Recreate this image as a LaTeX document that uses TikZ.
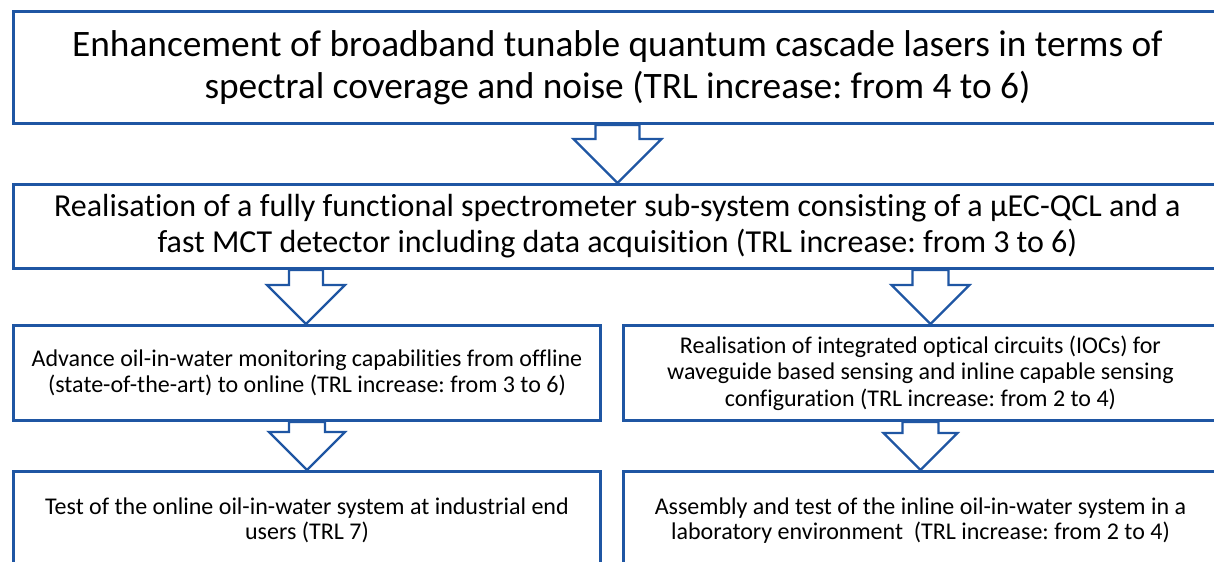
\documentclass[tikz,border=0pt]{standalone}
\usepackage{fontspec}
\setmainfont{Carlito}[RawFeature=-liga]
\usetikzlibrary{calc,backgrounds}
\definecolor{boxblue}{HTML}{1F56A3}
\tikzset{
  stagebox/.style={draw=boxblue, line width=2.2pt, fill=white, anchor=north west,
    inner sep=0pt, align=center},
  arrowline/.style={draw=boxblue, line width=1.7pt, fill=white, line join=miter},
}
% hollow block arrow: [x offset]{from}{to}{shaft half width}{head half width}
\newcommand{\flowarrow}[5][0]{%
  \draw[arrowline] ($(#2.south -| #3.north)+(#1-#4,0)$)
    -- ($(#3.north)+(#1-#4,-#5)$) -- ($(#3.north)+(#1-#5,-#5)$)
    -- ($(#3.north)+(#1,0)$)
    -- ($(#3.north)+(#1+#5,-#5)$) -- ($(#3.north)+(#1+#4,-#5)$)
    -- ($(#2.south -| #3.north)+(#1+#4,0)$) -- cycle;}
\frenchspacing

\begin{document}
\begin{tikzpicture}[x=0.75pt,y=-0.75pt]
\useasboundingbox (0,0) rectangle (1214,561);
\clip (0,0) rectangle (1214,561);

\node[stagebox, minimum width=1208*0.75pt, minimum height=112*0.75pt,
  font=\fontsize{28}{31.5}\selectfont] (qcl) at (12,10)
  {Enhancement of broadband tunable quantum cascade lasers in terms of\\
   spectral coverage and noise (TRL increase: from 4 to 6)};

\node[stagebox, minimum width=1208*0.75pt, minimum height=84*0.75pt,
  font=\fontsize{24}{27}\selectfont] (spec) at (12,183)
  {Realisation of a fully functional spectrometer sub-system consisting of a µEC-QCL and a\\
   fast MCT detector including data acquisition (TRL increase: from 3 to 6)};

\node[stagebox, minimum width=587*0.75pt, minimum height=95*0.75pt,
  font=\fontsize{18}{20}\selectfont] (online) at (12,324)
  {Advance oil-in-water monitoring capabilities from offline\\
   (state-of-the-art) to online (TRL increase: from 3 to 6)};

\node[stagebox, minimum width=594*0.75pt, minimum height=95*0.75pt,
  font=\fontsize{18}{20}\selectfont] (ioc) at (622,324)
  {Realisation of integrated optical circuits (IOCs) for\\
   waveguide based sensing and inline capable sensing\\
   configuration (TRL increase: from 2 to 4)};

\node[stagebox, minimum width=587*0.75pt, minimum height=98*0.75pt,
  font=\fontsize{18}{19}\selectfont] (field) at (12,470)
  {Test of the online oil-in-water system at industrial end\\
   users (TRL 7)};

\node[stagebox, minimum width=594*0.75pt, minimum height=98*0.75pt,
  font=\fontsize{18}{19}\selectfont] (lab) at (622,470)
  {Assembly and test of the inline oil-in-water system in a\\
   laboratory environment~ (TRL increase: from 2 to 4)};

\begin{pgfonlayer}{background}
\flowarrow{qcl}{spec}{22}{44}
\flowarrow[-1]{spec}{online}{17}{39}
\flowarrow[10]{spec}{ioc}{18}{39}
\flowarrow{online}{field}{18}{38}
\flowarrow{ioc}{lab}{18}{37}
\end{pgfonlayer}
\end{tikzpicture}
\end{document}
